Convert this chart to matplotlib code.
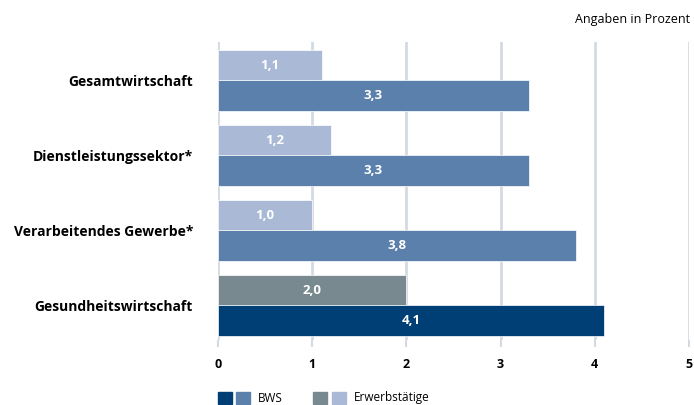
import matplotlib
matplotlib.use("Agg")
import matplotlib.pyplot as plt
from matplotlib.patches import Rectangle

categories = ["Gesamtwirtschaft", "Dienstleistungssektor*", "Verarbeitendes Gewerbe*", "Gesundheitswirtschaft"]
erwerbstaetige = [1.1, 1.2, 1.0, 2.0]
bws = [3.3, 3.3, 3.8, 4.1]
xticks = [0, 1, 2, 3, 4, 5]

plt.rcParams['font.family'] = ['Open Sans', 'DejaVu Sans']

c_bws_dark = "#003f76"
c_bws_light = "#5b80ac"
c_erw_dark = "#788a90"
c_erw_light = "#a9b9d6"
grid_c = "#d3dae2"

fig = plt.figure(figsize=(6.94, 4.05), dpi=100)
ax = fig.add_axes([218/694, 1-340/405, (689-218)/694, (340-42)/405])

h = 0.405
for i, cat in enumerate(categories):
    last = (i == len(categories) - 1)
    ce = c_erw_dark if last else c_erw_light
    cb = c_bws_dark if last else c_bws_light
    ax.barh(i - h/2, erwerbstaetige[i], height=h, color=ce, edgecolor="white", linewidth=0.5, zorder=3)
    ax.barh(i + h/2, bws[i], height=h, color=cb, edgecolor="white", linewidth=0.5, zorder=3)
    ax.text(erwerbstaetige[i]/2, i - h/2, f"{erwerbstaetige[i]:.1f}".replace(".", ","),
            ha="center", va="center", color="white", fontsize=9.5, fontweight="bold", zorder=4)
    ax.text(bws[i]/2, i + h/2, f"{bws[i]:.1f}".replace(".", ","),
            ha="center", va="center", color="white", fontsize=9.5, fontweight="bold", zorder=4)

ax.set_xlim(0, 5)
ax.set_ylim(3.46, -0.513)
ax.set_xticks(xticks)
ax.set_xticklabels([str(t) for t in xticks], fontsize=9, fontweight="bold")
ax.set_yticks(range(len(categories)))
ax.set_yticklabels(categories, fontsize=10, fontweight="bold")
ax.tick_params(axis="y", length=0, pad=18)
ax.tick_params(axis="x", length=5, width=1.5, color=grid_c, pad=8)
for s in ax.spines.values():
    s.set_visible(False)
ax.grid(axis="x", color=grid_c, linewidth=2, zorder=0)
ax.set_axisbelow(True)

fig.text(690/694, 1-20/405, "Angaben in Prozent", ha="right", va="center", fontsize=9)

# legend
def sq(x, color):
    fig.patches.append(Rectangle((x/694, 1-404/405), 14/694, 12/405, transform=fig.transFigure, color=color))
sq(218, c_bws_dark); sq(236, c_bws_light)
fig.text(258/694, 1-398/405, "BWS", ha="left", va="center", fontsize=8.5)
sq(313, c_erw_dark); sq(332, c_erw_light)
fig.text(354/694, 1-398/405, "Erwerbstätige", ha="left", va="center", fontsize=8.5)

fig.savefig("out.png", dpi=100)
